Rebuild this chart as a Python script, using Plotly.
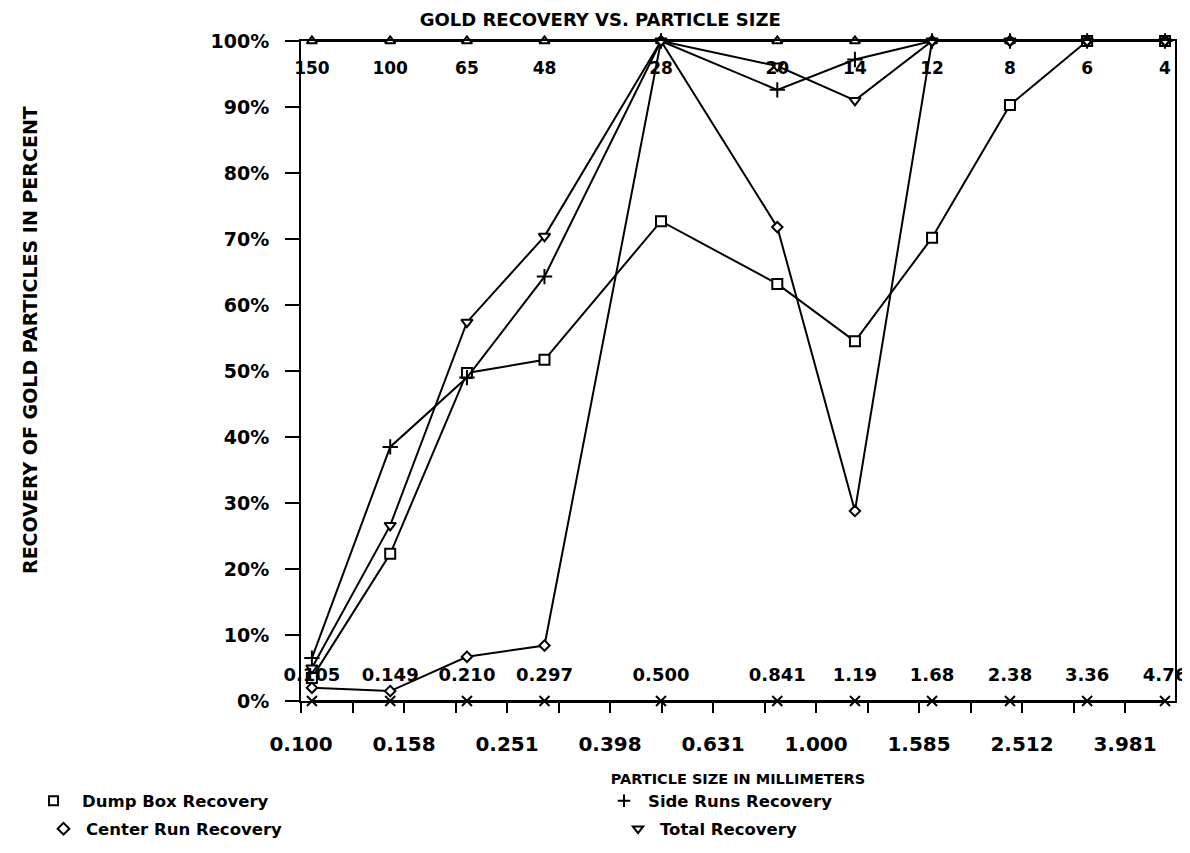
import plotly.graph_objects as go

# ---------------- data ----------------
size_mm = [0.105, 0.149, 0.210, 0.297, 0.500, 0.841, 1.19, 1.68, 2.38, 3.36, 4.76]
size_labels = ["0.105", "0.149", "0.210", "0.297", "0.500", "0.841", "1.19", "1.68", "2.38", "3.36", "4.76"]
mesh_labels = ["150", "100", "65", "48", "28", "20", "14", "12", "8", "6", "4"]

dump_box = [3.5, 22.3, 49.7, 51.7, 72.7, 63.2, 54.5, 70.2, 90.3, 100, 100]
center_run = [2.0, 1.5, 6.7, 8.4, 100, 71.8, 28.8, 100, 100, 100, 100]
side_runs = [6.5, 38.5, 49.0, 64.3, 100, 92.6, 97.2, 100, 100, 100, 100]
total_rec = [5.0, 26.6, 57.4, 70.4, 100, 96.2, 91.0, 100, 100, 100, 100]
upper_ref = [100] * 11
lower_ref = [0] * 11

y_tick_vals = [0, 10, 20, 30, 40, 50, 60, 70, 80, 90, 100]
y_tick_text = ["0%", "10%", "20%", "30%", "40%", "50%", "60%", "70%", "80%", "90%", "100%"]
x_tick_vals = [0.1, 0.15849, 0.25119, 0.39811, 0.63096, 1.0, 1.58489, 2.51189, 3.98107]
x_tick_text = ["0.100", "0.158", "0.251", "0.398", "0.631", "1.000", "1.585", "2.512", "3.981"]
x_minor_vals = [0.12589, 0.19953, 0.31623, 0.50119, 0.79433, 1.25893, 1.99526, 3.16228]

top_label_y = [95.7] * 11
bottom_label_y = [3.7] * 11

legend_names = ["Dump Box Recovery", "Side Runs Recovery", "Center Run Recovery", "Total Recovery"]
legend_symbols = ["square", "cross-thin", "diamond", "triangle-down"]

FONT = "DejaVu Sans"
BLACK = "#000000"

fig = go.Figure()

line = dict(color=BLACK, width=2)


def marker_style(symbol, size):
    if symbol.endswith("-thin"):
        return dict(symbol=symbol, size=size, color=BLACK, line=dict(color=BLACK, width=2))
    return dict(symbol=symbol, size=size, color="white", line=dict(color=BLACK, width=2))


def series(y, symbol, size, name):
    fig.add_trace(go.Scatter(
        x=size_mm, y=y, mode="lines+markers", name=name, showlegend=False,
        line=line, cliponaxis=False, marker=marker_style(symbol, size),
    ))


series(upper_ref, "triangle-up", 9, "Upper")
series(lower_ref, "x-thin", 10, "Lower")
series(dump_box, "square", 10, "Dump Box Recovery")
series(center_run, "diamond", 8, "Center Run Recovery")
series(side_runs, "cross-thin", 11, "Side Runs Recovery")
series(total_rec, "triangle-down", 10, "Total Recovery")

# value labels
fig.add_trace(go.Scatter(
    x=size_mm, y=top_label_y, mode="text", text=mesh_labels, showlegend=False,
    cliponaxis=False, textfont=dict(family=FONT, size=17, color=BLACK, weight="bold"),
))
fig.add_trace(go.Scatter(
    x=size_mm, y=bottom_label_y, mode="text", text=size_labels, showlegend=False,
    cliponaxis=False, textfont=dict(family=FONT, size=18, color=BLACK, weight="bold"),
))

# legend entries (symbols only), one legend per entry for staggered placement
legend_ids = ["legend", "legend2", "legend3", "legend4"]
for nm, sym, lid in zip(legend_names, legend_symbols, legend_ids):
    fig.add_trace(go.Scatter(
        x=[None], y=[None], mode="markers", name=nm, legend=lid,
        marker=marker_style(sym, 9),
    ))

# page offset (default body margin of the html page)
OFF = 8
W, H = 1190, 853
PL, PR, PT, PB = 301, 1175, 41, 701          # target plot box in window pixels
L = PL - OFF
T = PT - OFF
R = W - (PR - OFF)
B = H - (PB - OFF)
PW = PR - PL
PH = PB - PT


def px_x(px):
    return (px - PL) / PW


def px_y(py):
    return (PB - py) / PH


legend_font = dict(family=FONT, size=16.5, color=BLACK, weight="bold")


def legend_box(sym_x, y_px, gap):
    return dict(
        orientation="h", x=px_x(sym_x - 20), xanchor="left", y=px_y(y_px), yanchor="middle",
        font=legend_font, itemwidth=max(30, gap + 10),
        bgcolor="rgba(0,0,0,0)", itemclick=False, itemdoubleclick=False,
    )


fig.update_layout(
    width=W, height=H,
    margin=dict(l=L, r=R, t=T, b=B, autoexpand=False),
    paper_bgcolor="white", plot_bgcolor="white",
    title=dict(text="GOLD RECOVERY VS. PARTICLE SIZE", x=px_x(736), xanchor="center",
               y=1 - (20 - OFF) / H, yanchor="middle",
               font=dict(family=FONT, size=18, color=BLACK, weight="bold")),
    xaxis=dict(
        type="log", range=[-1, 0.697],
        tickvals=x_tick_vals, ticktext=x_tick_text,
        ticks="outside", ticklen=10, tickwidth=2, tickcolor=BLACK,
        minor=dict(tickvals=x_minor_vals, ticks="outside", ticklen=10, tickwidth=2, tickcolor=BLACK),
        showline=True, linecolor=BLACK, linewidth=2, mirror=True,
        showgrid=False, zeroline=False,
        ticklabelstandoff=14,
        tickfont=dict(family=FONT, size=20, color=BLACK, weight="bold"),
        title=dict(text="PARTICLE SIZE IN MILLIMETERS", standoff=19,
                   font=dict(family=FONT, size=14.5, color=BLACK, weight="bold")),
    ),
    yaxis=dict(
        range=[0, 100],
        tickvals=y_tick_vals, ticktext=y_tick_text,
        ticks="outside", ticklen=14, tickwidth=2, tickcolor=BLACK,
        showline=True, linecolor=BLACK, linewidth=2, mirror=True,
        showgrid=False, zeroline=False,
        ticklabelstandoff=12,
        tickfont=dict(family=FONT, size=19, color=BLACK, weight="bold"),
    ),
    legend=legend_box(45, 801, 37),
    legend2=legend_box(620, 801, 28),
    legend3=legend_box(61, 829, 25),
    legend4=legend_box(636, 829, 24),
    annotations=[dict(
        text="RECOVERY OF GOLD PARTICLES IN PERCENT", textangle=-90,
        xref="paper", yref="paper", x=px_x(30), y=px_y(340),
        xanchor="center", yanchor="middle", showarrow=False,
        font=dict(family=FONT, size=19, color=BLACK, weight="bold"),
    )],
)

fig.write_html("out.html")
